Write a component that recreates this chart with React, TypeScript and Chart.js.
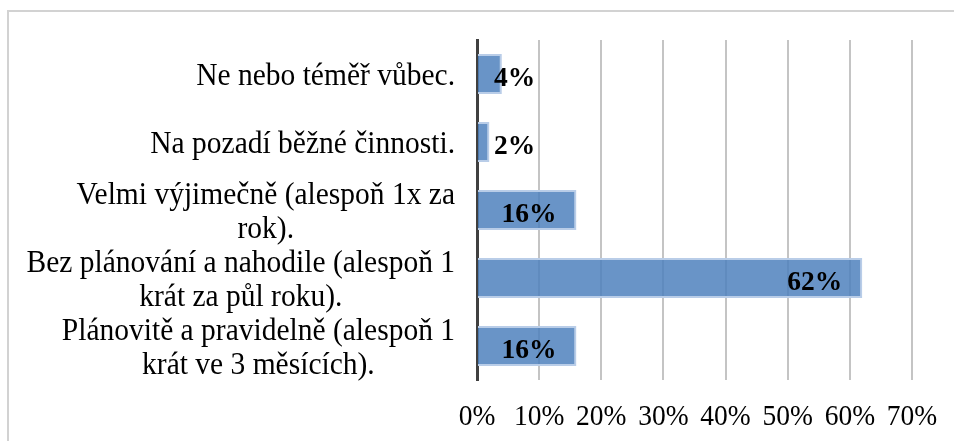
import React, { useEffect, useRef } from "react";
import { Chart, registerables } from "chart.js";

Chart.register(...registerables);

const categories: string[][] = [
  ["Ne nebo téměř vůbec."],
  ["Na pozadí běžné činnosti."],
  ["Velmi výjimečně (alespoň 1x za", "rok)."],
  ["Bez plánování a nahodile (alespoň 1", "krát za půl roku)."],
  ["Plánovitě a pravidelně (alespoň 1", "krát ve 3 měsících)."],
];
const values: number[] = [4, 2, 16, 62, 16];
const xTicks: number[] = [0, 10, 20, 30, 40, 50, 60, 70];

const FONT = "'Times New Roman', 'Liberation Serif', serif";
const STRETCH = 1.1;

const categoryLabelPlugin = {
  id: "categoryLabels",
  afterDraw(chart: any) {
    const ctx = chart.ctx;
    const y = chart.scales.y;
    ctx.save();
    ctx.scale(1, STRETCH);
    ctx.font = `29.5px ${FONT}`;
    ctx.fillStyle = "#000";
    ctx.textAlign = "center";
    ctx.textBaseline = "alphabetic";
    const right = y.right - 22;
    const lh = 33.3;
    categories.forEach((lines, i) => {
      const cy = y.getPixelForTick(i);
      const block = Math.max(...lines.map((l) => ctx.measureText(l).width));
      const cx = right - block / 2;
      lines.forEach((l, j) => {
        const by = cy + 11 + (j - (lines.length - 1) / 2) * lh;
        ctx.fillText(l, cx, by / STRETCH);
      });
    });
    ctx.restore();
  },
};

const xTickPlugin = {
  id: "xTickLabels",
  afterDraw(chart: any) {
    const ctx = chart.ctx;
    const xs = chart.scales.x;
    ctx.save();
    ctx.scale(1, STRETCH);
    ctx.font = `27.5px ${FONT}`;
    ctx.fillStyle = "#000";
    ctx.textAlign = "center";
    ctx.textBaseline = "alphabetic";
    xTicks.forEach((v) => {
      const x = xs.getPixelForValue(v);
      ctx.fillText(`${v}%`, x, (xs.top + 45) / STRETCH);
    });
    ctx.restore();
  },
};

const valueLabelPlugin = {
  id: "valueLabels",
  afterDatasetsDraw(chart: any) {
    const ctx = chart.ctx;
    const meta = chart.getDatasetMeta(0);
    ctx.save();
    ctx.font = `bold 27.5px ${FONT}`;
    ctx.fillStyle = "#000";
    ctx.textAlign = "right";
    ctx.textBaseline = "alphabetic";
    meta.data.forEach((bar: any, i: number) => {
      const text = `${values[i]}%`;
      const w = ctx.measureText(text).width;
      const x = Math.max(bar.x - 20, bar.base + 16 + w);
      ctx.fillText(text, x, bar.y + 11.5);
    });
    ctx.restore();
  },
};

export default function App() {
  const ref = useRef<HTMLCanvasElement>(null);
  useEffect(() => {
    if (!ref.current) return;
    const chart = new Chart(ref.current, {
      type: "bar",
      data: {
        labels: categories.map((c) => c.join(" ")),
        datasets: [
          {
            data: values,
            backgroundColor: "rgba(79,129,189,0.85)",
            borderColor: "rgba(185,205,232,1)",
            borderWidth: 2,
            barPercentage: 0.59,
            categoryPercentage: 1,
          },
        ],
      },
      options: {
        indexAxis: "y",
        animation: false,
        responsive: false,
        maintainAspectRatio: false,
        layout: { padding: { top: 40, right: 42, left: 0, bottom: 0 } },
        plugins: { legend: { display: false }, tooltip: { enabled: false } },
        scales: {
          x: {
            min: 0,
            max: 70,
            afterBuildTicks: (s: any) => {
              s.ticks = xTicks.map((v) => ({ value: v }));
            },
            afterFit: (s: any) => {
              s.height = 61;
            },
            ticks: { display: false },
            grid: { color: "#c4c4c4", lineWidth: 2, drawTicks: false },
            border: { display: false },
          },
          y: {
            afterFit: (s: any) => {
              s.width = 477;
            },
            ticks: { display: false },
            grid: { display: false, drawTicks: false },
            border: { display: true, color: "#404040", width: 3 },
          },
        },
      },
      plugins: [categoryLabelPlugin, xTickPlugin, valueLabelPlugin],
    });
    return () => chart.destroy();
  }, []);
  return (
    <div style={{ position: "fixed", left: 0, top: 0, width: 954, height: 441, background: "#fff" }}>
      <div
        style={{
          position: "absolute",
          left: 7,
          top: 10,
          width: 947,
          height: 431,
          borderTop: "2px solid #d2d2d2",
          borderLeft: "2px solid #d2d2d2",
          boxSizing: "border-box",
        }}
      />
      <canvas ref={ref} width={954} height={441} style={{ position: "absolute", left: 0, top: 0 }} />
    </div>
  );
}
